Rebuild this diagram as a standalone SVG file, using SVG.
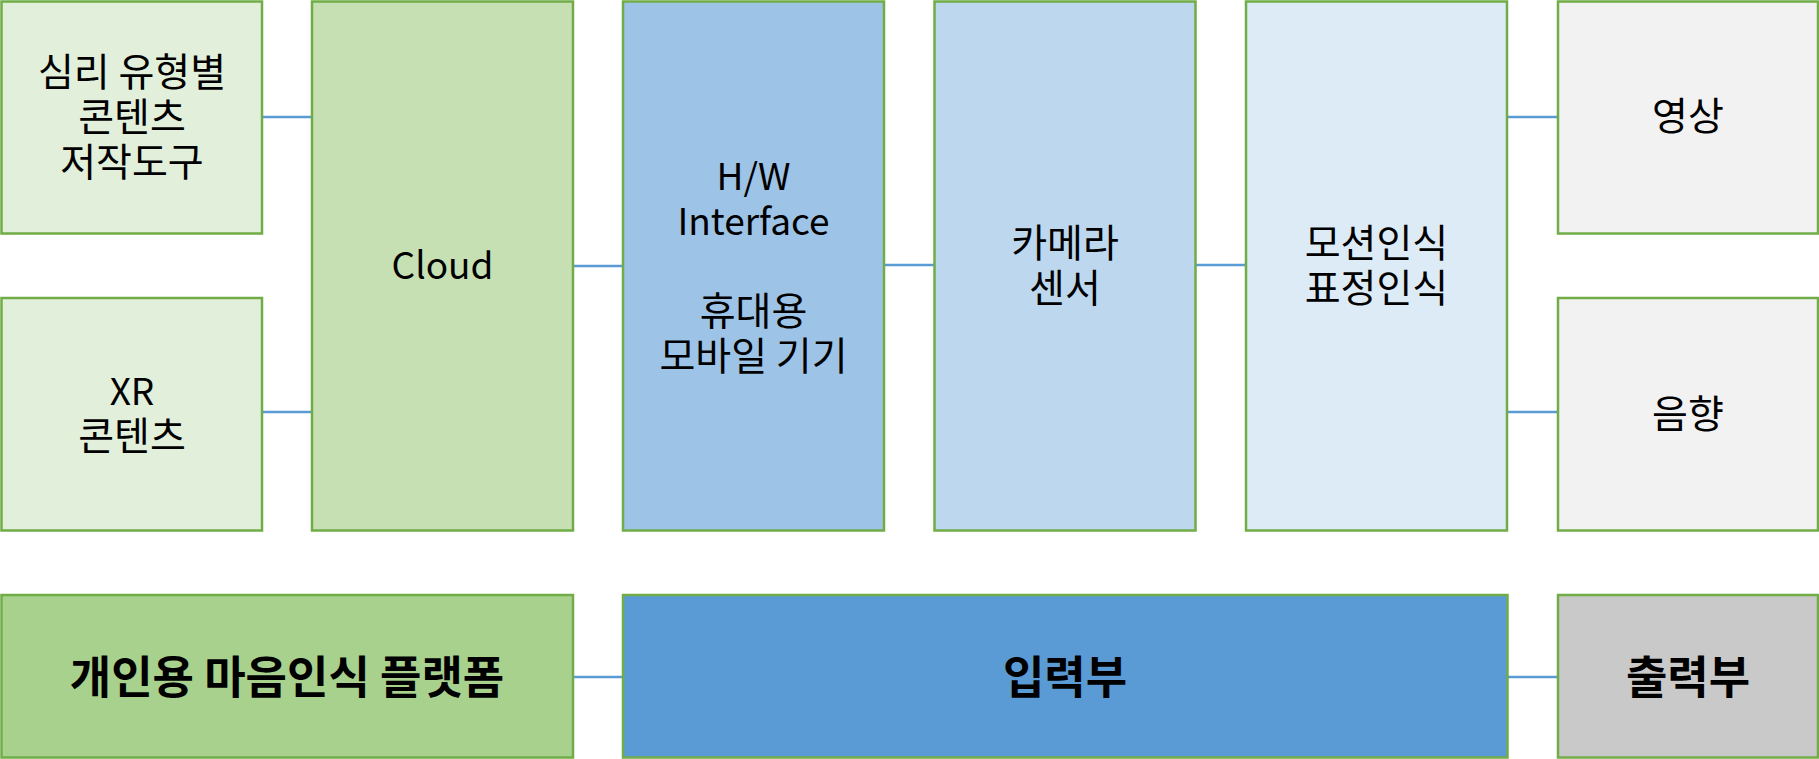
<svg xmlns="http://www.w3.org/2000/svg" width="1819" height="759" viewBox="0 0 1819 759">
<style>
rect{stroke:#70AD47;stroke-width:2.5}
text{font-family:"Noto Sans CJK KR","Malgun Gothic",sans-serif;font-size:39px;fill:#000;text-anchor:middle}
.l{font-size:37px}
.b{font-weight:bold;font-size:45px}
.c line{stroke:#5B9BD5;stroke-width:2.5}
</style>
<rect width="1819" height="759" fill="#fff" style="stroke:none"/>
<g class="c" id="connectors">
<line x1="262" y1="117" x2="312" y2="117"/>
<line x1="262" y1="412" x2="312" y2="412"/>
<line x1="573" y1="266" x2="623" y2="266"/>
<line x1="884" y1="265" x2="934" y2="265"/>
<line x1="1196" y1="265" x2="1246" y2="265"/>
<line x1="1507" y1="117" x2="1558" y2="117"/>
<line x1="1507" y1="412" x2="1558" y2="412"/>
<line x1="573" y1="677" x2="623" y2="677"/>
<line x1="1507" y1="677" x2="1558" y2="677"/>
</g>
<g id="n1"><rect x="1.5" y="1.5" width="260.5" height="232" fill="#E2EFDA"/>
<text x="132" y="86">심리 유형별</text><text x="132" y="131">콘텐츠</text><text x="132" y="176">저작도구</text></g>
<g id="n2"><rect x="1.5" y="298" width="260.5" height="232.5" fill="#E2EFDA"/>
<text class="l" x="132" y="405">XR</text><text x="132" y="450">콘텐츠</text></g>
<g id="n3"><rect x="312" y="1.5" width="261" height="529" fill="#C6E0B4"/>
<text class="l" x="442.5" y="279">Cloud</text></g>
<g id="n4"><rect x="623" y="1.5" width="261" height="529" fill="#9DC3E6"/>
<text class="l" x="753.5" y="190">H/W</text><text class="l" x="753.5" y="235">Interface</text><text x="753.5" y="325">휴대용</text><text x="753.5" y="370">모바일 기기</text></g>
<g id="n5"><rect x="934.5" y="1.5" width="261" height="529" fill="#BDD7EE"/>
<text x="1065" y="257">카메라</text><text x="1065" y="302">센서</text></g>
<g id="n6"><rect x="1246" y="1.5" width="261" height="529" fill="#DDEBF7"/>
<text x="1376.5" y="257">모션인식</text><text x="1376.5" y="302">표정인식</text></g>
<g id="n7"><rect x="1558" y="1.5" width="260" height="232" fill="#F2F2F2"/>
<text x="1688" y="130">영상</text></g>
<g id="n8"><rect x="1558" y="298" width="260" height="232.5" fill="#F2F2F2"/>
<text x="1688" y="428">음향</text></g>
<g id="n9"><rect x="1.5" y="595" width="571.5" height="162.5" fill="#A9D18E"/>
<text class="b" x="287" y="694">개인용 마음인식 플랫폼</text></g>
<g id="n10"><rect x="623" y="595" width="884.5" height="162.5" fill="#5B9BD5"/>
<text class="b" x="1065" y="694">입력부</text></g>
<g id="n11"><rect x="1558" y="595" width="260" height="162.5" fill="#C9C9C9"/>
<text class="b" x="1688" y="694">출력부</text></g>
</svg>
